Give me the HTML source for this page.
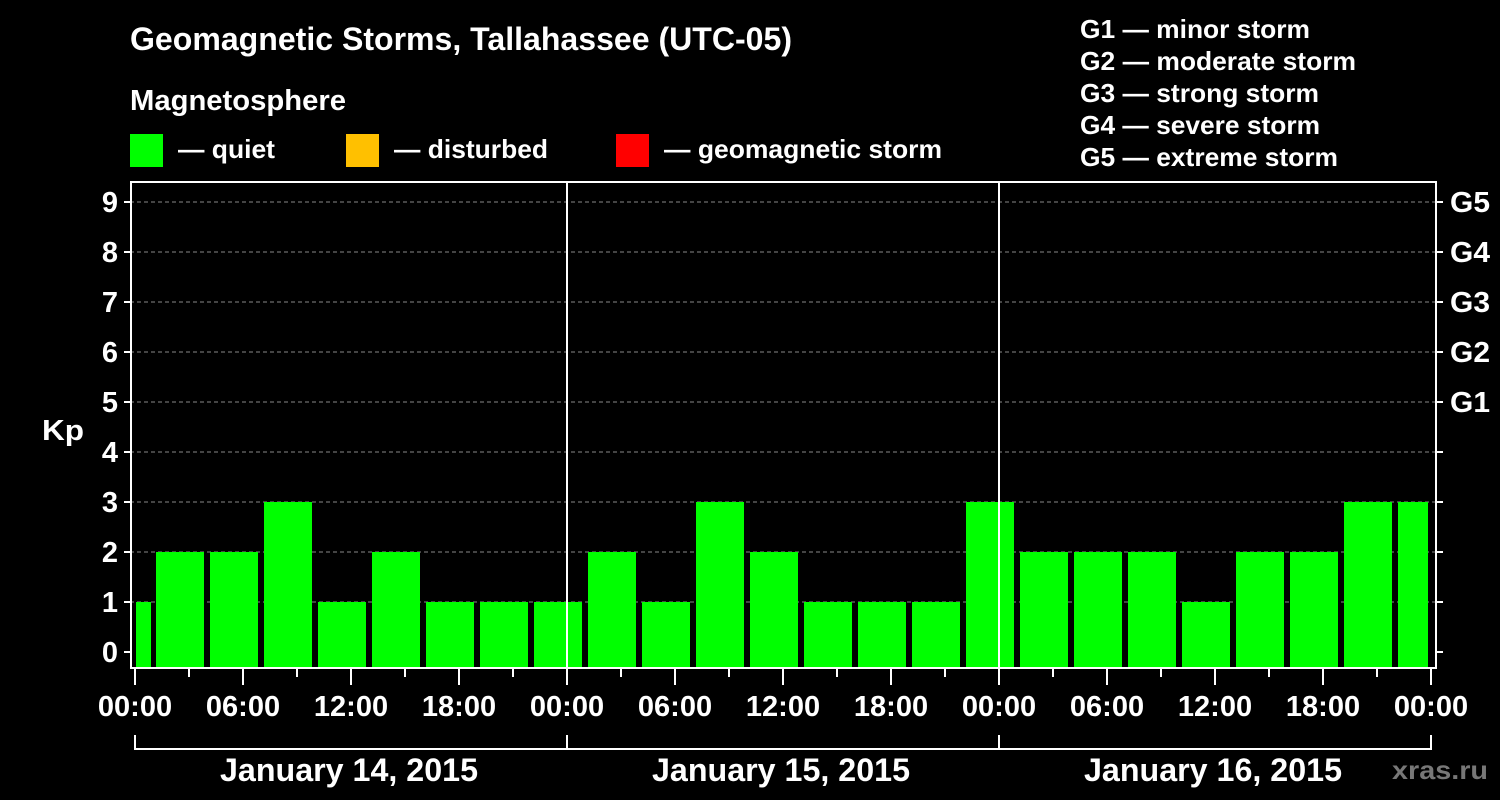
<!DOCTYPE html>
<html><head><style>
body{margin:0;background:#000;}
svg{display:block;font-family:"Liberation Sans",Arial,sans-serif;font-weight:bold;}
</style></head><body>
<svg width="1500" height="800" viewBox="0 0 1500 800">
<rect width="1500" height="800" fill="#000"/>
<g fill="#fff" font-size="26">
<text x="130" y="50" font-size="32" textLength="662" lengthAdjust="spacingAndGlyphs">Geomagnetic Storms, Tallahassee (UTC-05)</text>
<text x="130" y="110" font-size="29" textLength="216" lengthAdjust="spacingAndGlyphs">Magnetosphere</text>
<text x="178" y="158" textLength="97" lengthAdjust="spacingAndGlyphs">— quiet</text>
<text x="394" y="158" textLength="154" lengthAdjust="spacingAndGlyphs">— disturbed</text>
<text x="664" y="158" textLength="278" lengthAdjust="spacingAndGlyphs">— geomagnetic storm</text>
<text x="1080" y="38" textLength="230" lengthAdjust="spacingAndGlyphs">G1 — minor storm</text>
<text x="1080" y="70" textLength="276" lengthAdjust="spacingAndGlyphs">G2 — moderate storm</text>
<text x="1080" y="102" textLength="239" lengthAdjust="spacingAndGlyphs">G3 — strong storm</text>
<text x="1080" y="134" textLength="240" lengthAdjust="spacingAndGlyphs">G4 — severe storm</text>
<text x="1080" y="166" textLength="258" lengthAdjust="spacingAndGlyphs">G5 — extreme storm</text>
</g>
<rect x="130" y="134" width="33" height="33" fill="#00ff00"/>
<rect x="346" y="134" width="33" height="33" fill="#ffc000"/>
<rect x="616" y="134" width="33" height="33" fill="#ff0000"/>
<g stroke="#888" stroke-dasharray="4,3" stroke-width="1">
<line x1="130" x2="1436" y1="602" y2="602"/><line x1="130" x2="1436" y1="552" y2="552"/>
<line x1="130" x2="1436" y1="502" y2="502"/><line x1="130" x2="1436" y1="452" y2="452"/>
<line x1="130" x2="1436" y1="402" y2="402"/><line x1="130" x2="1436" y1="352" y2="352"/>
<line x1="130" x2="1436" y1="302" y2="302"/><line x1="130" x2="1436" y1="252" y2="252"/>
<line x1="130" x2="1436" y1="202" y2="202"/>
</g>
<g fill="#00ff00">
<rect x="136" y="602" width="15" height="66"/>
<rect x="156" y="552" width="48" height="116"/>
<rect x="210" y="552" width="48" height="116"/>
<rect x="264" y="502" width="48" height="166"/>
<rect x="318" y="602" width="48" height="66"/>
<rect x="372" y="552" width="48" height="116"/>
<rect x="426" y="602" width="48" height="66"/>
<rect x="480" y="602" width="48" height="66"/>
<rect x="534" y="602" width="48" height="66"/>
<rect x="588" y="552" width="48" height="116"/>
<rect x="642" y="602" width="48" height="66"/>
<rect x="696" y="502" width="48" height="166"/>
<rect x="750" y="552" width="48" height="116"/>
<rect x="804" y="602" width="48" height="66"/>
<rect x="858" y="602" width="48" height="66"/>
<rect x="912" y="602" width="48" height="66"/>
<rect x="966" y="502" width="48" height="166"/>
<rect x="1020" y="552" width="48" height="116"/>
<rect x="1074" y="552" width="48" height="116"/>
<rect x="1128" y="552" width="48" height="116"/>
<rect x="1182" y="602" width="48" height="66"/>
<rect x="1236" y="552" width="48" height="116"/>
<rect x="1290" y="552" width="48" height="116"/>
<rect x="1344" y="502" width="48" height="166"/>
<rect x="1398" y="502" width="30" height="166"/>
</g>
<g stroke="#fff" stroke-width="2" fill="none">
<rect x="131" y="182" width="1305" height="486"/>
<line x1="567" x2="567" y1="182" y2="668"/>
<line x1="999" x2="999" y1="182" y2="668"/>
<path d="M135 735V749H1431V735M567 735V749M999 735V749"/>
</g>
<g stroke="#fff" stroke-width="2">
<line x1="124" x2="131" y1="652" y2="652"/><line x1="124" x2="131" y1="602" y2="602"/>
<line x1="124" x2="131" y1="552" y2="552"/><line x1="124" x2="131" y1="502" y2="502"/>
<line x1="124" x2="131" y1="452" y2="452"/><line x1="124" x2="131" y1="402" y2="402"/>
<line x1="124" x2="131" y1="352" y2="352"/><line x1="124" x2="131" y1="302" y2="302"/>
<line x1="124" x2="131" y1="252" y2="252"/><line x1="124" x2="131" y1="202" y2="202"/>
<line x1="1436" x2="1443" y1="652" y2="652"/><line x1="1436" x2="1443" y1="602" y2="602"/>
<line x1="1436" x2="1443" y1="552" y2="552"/><line x1="1436" x2="1443" y1="502" y2="502"/>
<line x1="1436" x2="1443" y1="452" y2="452"/><line x1="1436" x2="1443" y1="402" y2="402"/>
<line x1="1436" x2="1443" y1="352" y2="352"/><line x1="1436" x2="1443" y1="302" y2="302"/>
<line x1="1436" x2="1443" y1="252" y2="252"/><line x1="1436" x2="1443" y1="202" y2="202"/>
</g>
<g stroke="#fff" stroke-width="2">
<path d="M135 668V685M243 668V685M351 668V685M459 668V685M567 668V685M675 668V685M783 668V685M891 668V685M999 668V685M1107 668V685M1215 668V685M1323 668V685M1431 668V685"/>
<path d="M189 668V677M297 668V677M405 668V677M513 668V677M621 668V677M729 668V677M837 668V677M945 668V677M1053 668V677M1161 668V677M1269 668V677M1377 668V677"/>
</g>
<g fill="#fff" font-size="29" text-anchor="end">
<text x="118" y="662">0</text><text x="118" y="612">1</text><text x="118" y="562">2</text>
<text x="118" y="512">3</text><text x="118" y="462">4</text><text x="118" y="412">5</text>
<text x="118" y="362">6</text><text x="118" y="312">7</text><text x="118" y="262">8</text>
<text x="118" y="212">9</text>
</g>
<g fill="#fff" font-size="29">
<text x="42" y="440" textLength="42" lengthAdjust="spacingAndGlyphs">Kp</text>
<text x="1450" y="412" textLength="40" lengthAdjust="spacingAndGlyphs">G1</text><text x="1450" y="362" textLength="40" lengthAdjust="spacingAndGlyphs">G2</text><text x="1450" y="312" textLength="40" lengthAdjust="spacingAndGlyphs">G3</text>
<text x="1450" y="262" textLength="40" lengthAdjust="spacingAndGlyphs">G4</text><text x="1450" y="212" textLength="40" lengthAdjust="spacingAndGlyphs">G5</text>
</g>
<g fill="#fff" font-size="29" text-anchor="middle">
<text x="135" y="716">00:00</text><text x="243" y="716">06:00</text><text x="351" y="716">12:00</text>
<text x="459" y="716">18:00</text><text x="567" y="716">00:00</text><text x="675" y="716">06:00</text>
<text x="783" y="716">12:00</text><text x="891" y="716">18:00</text><text x="999" y="716">00:00</text>
<text x="1107" y="716">06:00</text><text x="1215" y="716">12:00</text><text x="1323" y="716">18:00</text>
<text x="1431" y="716">00:00</text>
</g>
<g fill="#fff" font-size="32">
<text x="220" y="781" textLength="258" lengthAdjust="spacingAndGlyphs">January 14, 2015</text>
<text x="652" y="781" textLength="258" lengthAdjust="spacingAndGlyphs">January 15, 2015</text>
<text x="1084" y="781" textLength="258" lengthAdjust="spacingAndGlyphs">January 16, 2015</text>
</g>
<text x="1392" y="779" fill="#777" font-size="26" textLength="96" lengthAdjust="spacingAndGlyphs">xras.ru</text>
</svg>
</body></html>
